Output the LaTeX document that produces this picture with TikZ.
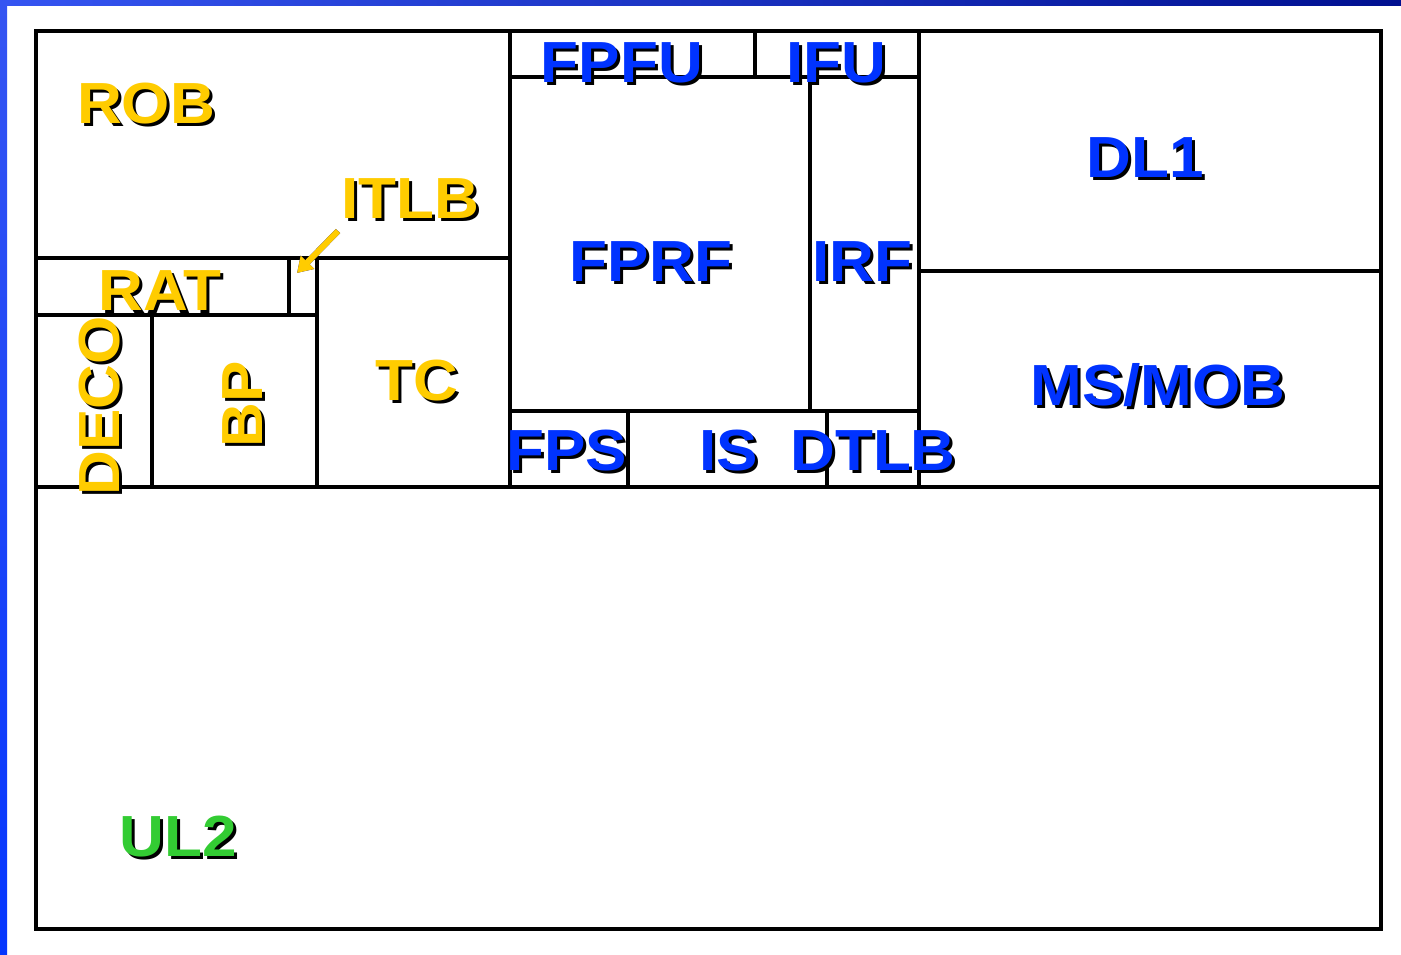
\documentclass[tikz,border=0pt]{standalone}
\usepackage{fontspec}
\setmainfont{Liberation Sans}
\usepackage{tikz}
\usetikzlibrary{arrows.meta}
\usepackage{graphicx}

\definecolor{groc}{HTML}{FFCC00}
\definecolor{blau}{HTML}{0033FF}
\definecolor{verd}{HTML}{33CC33}
\definecolor{mari}{HTML}{000A80}
\definecolor{fonsclar}{HTML}{3555F2}
\definecolor{fonsfosc}{HTML}{001090}

% etiqueta amb ombra: [opcions]{nom}{posicio}{color}{text}
\newcommand{\unitat}[5][]{%
  \node[etiq,xshift=3pt,yshift=-3pt,#1,text=black] (#2-ombra) at (#3) {\scalebox{1.07}[1]{#5}};
  \node[etiq,#1,text=#4] (#2) at (#3) {\scalebox{1.07}[1]{#5}};
}

\begin{document}
\begin{tikzpicture}[x=1pt, y=-1pt,
    mur/.style={line width=3.2pt, black},
    etiq/.style={font=\bfseries\fontsize{58}{60}\selectfont, anchor=base, inner sep=0pt},
    fletxa/.style={line width=6pt, -{Triangle[length=15pt,width=18pt]}}]

\useasboundingbox (0,0) rectangle (1401,954);
\fill[white] (0,0) rectangle (1401,954);

% Vores blaves
\shade[left color=fonsclar, right color=fonsfosc] (0,0) rectangle (1401,5);
\shade[top color=fonsclar, bottom color=blau!90!fonsclar] (0,0) rectangle (7,954);

% Marc i blocs
\draw[mur] (36,31) rectangle (1381,929);
\draw[mur] (36,487) -- (1381,487);
\draw[mur] (510,31) -- (510,487);
\draw[mur] (919,31) -- (919,487);
\draw[mur] (919,271) -- (1381,271);

% Part esquerra
\draw[mur] (36,258) -- (510,258);
\draw[mur] (36,315) -- (317,315);
\draw[mur] (289,258) -- (289,315);
\draw[mur] (317,258) -- (317,487);
\draw[mur] (152,315) -- (152,487);

% Part central
\draw[mur] (510,77) -- (919,77);
\draw[mur] (755,31) -- (755,77);
\draw[mur] (810,77) -- (810,411);
\draw[mur] (510,411) -- (919,411);
\draw[mur] (628,411) -- (628,487);
\draw[mur] (827,411) -- (827,487);

% Fletxa ITLB
\coordinate (itlb-ini) at (338,231);
\coordinate (itlb-fi) at (297,273);
\draw[fletxa, mari, xshift=3pt, yshift=-2pt] (itlb-ini) -- (itlb-fi);
\draw[fletxa, groc] (itlb-ini) -- (itlb-fi);

% Etiquetes
\unitat{rob}{146,123}{groc}{ROB}
\unitat{itlb}{410,218}{groc}{ITLB}
\unitat{rat}{160,310}{groc}{RAT}
\unitat{tc}{417,400}{groc}{TC}
\unitat[rotate=90]{deco}{119,406}{groc}{DECO}
\unitat[rotate=90]{bp}{262,404}{groc}{BP}
\unitat{fpfu}{622,82}{blau}{FPFU}
\unitat{ifu}{836,82}{blau}{IFU}
\unitat{fprf}{651,281}{blau}{FPRF}
\unitat{irf}{862,281}{blau}{IRF}
\unitat{dl1}{1145,177}{blau}{DL1}
\unitat{msmob}{1158,405}{blau}{MS/MOB}
\unitat{fps}{567,470}{blau}{FPS}
\unitat{is}{729,470}{blau}{IS}
\unitat{dtlb}{873,470}{blau}{DTLB}
\unitat{ul2}{178,856}{verd}{UL2}

\end{tikzpicture}
\end{document}
